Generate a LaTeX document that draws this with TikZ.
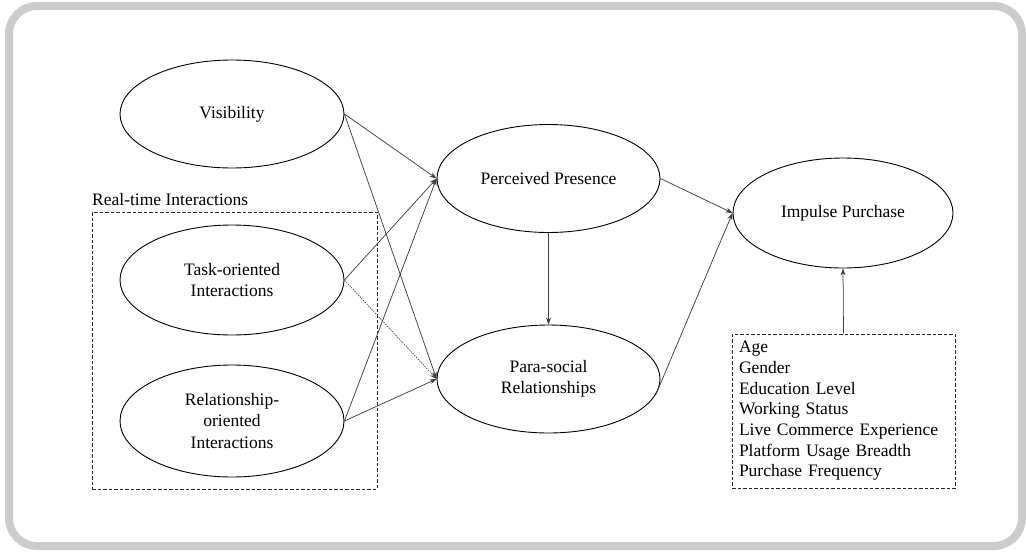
\documentclass[tikz,border=0pt]{standalone}
\usepackage{fontspec}
\setmainfont{Liberation Serif}
\usetikzlibrary{shapes.geometric,arrows.meta}
\begin{document}
\begin{tikzpicture}[x=1pt,y=-1pt,
  construct/.style={ellipse,draw=black,line width=0.9pt,inner sep=0pt,
    minimum width=224pt,minimum height=108pt,align=center,
    font=\fontsize{17.5}{21.5}\selectfont},
  path/.style={draw=black!75,line width=0.75pt,-{Stealth[length=7pt,width=5pt]}},
  dotpath/.style={draw=black!70,line width=0.7pt,dash pattern=on 1.5pt off 1pt,-{Stealth[length=7pt,width=5pt]}},
  dashbox/.style={draw=black!85,line width=0.9pt,dash pattern=on 3.5pt off 2pt}]
\useasboundingbox (0,0) rectangle (1026,552);
\draw[line width=8pt,color=black!20,rounded corners=28pt] (9,6) rectangle (1022,546);
% group box
\node[dashbox,minimum width=285pt,minimum height=277pt,inner sep=0pt] (rtbox) at (234.5,350.5) {};
\node[anchor=base west,inner sep=0pt,font=\fontsize{17.5}{20}\selectfont] (rtlabel) at (92,205) {Real-time Interactions};
% constructs
\node[construct] (vis) at (232,114) {Visibility};
\node[construct,minimum height=110pt] (task) at (232,280) {Task-oriented\\Interactions};
\node[construct,minimum height=112pt] (rel) at (232,421) {Relationship-\\oriented\\Interactions};
\node[construct,minimum width=223pt] (pp) at (548.5,178.5) {Perceived Presence};
\node[construct,minimum width=223pt] (psr) at (548.5,379) {Para-social\\Relationships};
\node[construct,minimum width=220pt,minimum height=110pt] (ip) at (843,213) {Impulse Purchase};
% controls
\node[dashbox,minimum width=223pt,minimum height=154pt,inner xsep=7pt,inner ysep=0pt,
  text width=209pt,align=left,font=\fontsize{17.5}{20.7}\selectfont] (ctrl) at (843.5,411)
  {Age\\Gender\\Education Level\\Working Status\\Live Commerce Experience\\Platform Usage Breadth\\Purchase Frequency};
% paths
\draw[path] (vis.east) -- (pp.west);
\draw[path] (vis.east) -- (psr.west);
\draw[path] (task.east) -- (pp.west);
\draw[dotpath] (task.east) -- (psr.west);
\draw[path] (rel.east) -- (pp.west);
\draw[path] (rel.east) -- (psr.west);
\draw[path] (pp.east) -- (ip.west);
\draw[path] (psr.-8) -- (ip.west);
\draw[path] (pp.south) -- (psr.north);
\draw[path] (ctrl.north) -- (ip.south);
\end{tikzpicture}
\end{document}
